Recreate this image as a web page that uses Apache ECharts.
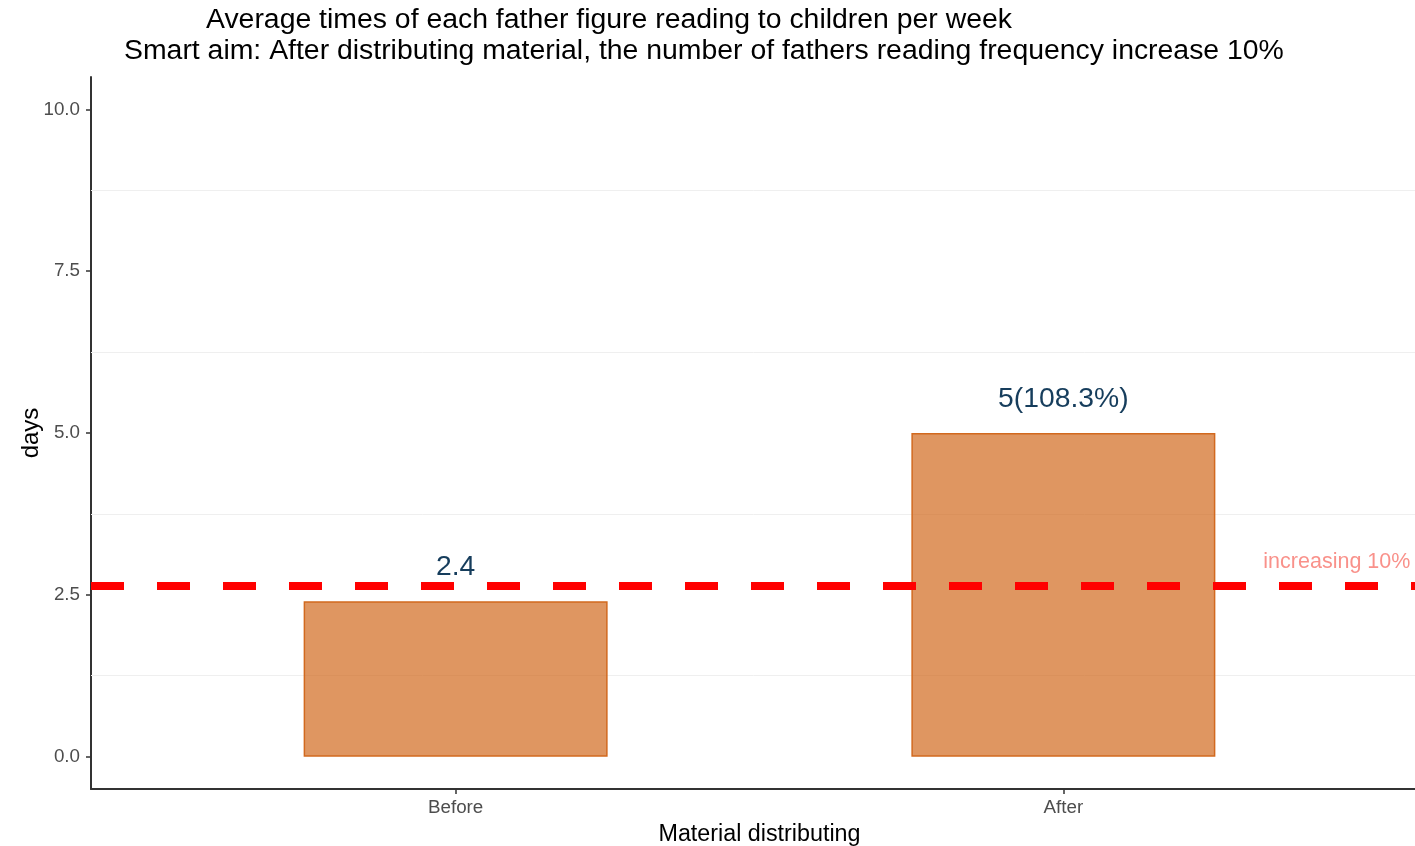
<!DOCTYPE html>
<html>
<head>
<meta charset="utf-8">
<script src="https://cdn.jsdelivr.net/npm/echarts@6/dist/echarts.min.js"></script>
<style>
  body { margin: 0; background: #fff; }
  #chart { width: 1415px; height: 846px; }
</style>
</head>
<body>
<div id="chart"></div>
<script>
  // data
  var categories = ['Before', 'After'];
  var daysValues = [2.4, 5];
  var barLabels = ['2.4', '5(108.3%)'];
  var yTicks = [0, 2.5, 5, 7.5, 10];
  var minorGrid = [1.25, 3.75, 6.25, 8.75];
  var targetLine = 2.64;           // 2.4 * 1.1
  var targetText = 'increasing 10%';
  var targetTextPos = [2.45, 3];

  var font = "'Liberation Sans', Arial, sans-serif";
  var chart = echarts.init(document.getElementById('chart'));

  var barData = daysValues.map(function (v, i) { return [i + 1, v]; });

  var option = {
    animation: false,
    title: [
      {
        text: 'Average times of each father figure reading to children per week',
        left: 206, top: 6, padding: 0,
        textStyle: { fontFamily: font, fontSize: 28.4, fontWeight: 'normal', color: '#000' }
      },
      {
        text: 'Smart aim: After distributing material, the number of fathers reading frequency increase 10%',
        left: 124, top: 37, padding: 0,
        textStyle: { fontFamily: font, fontSize: 28.4, fontWeight: 'normal', color: '#000' }
      }
    ],
    grid: { left: 91, top: 77, width: 1337, height: 712, outerBoundsMode: 'none' },
    xAxis: {
      type: 'value',
      min: 0.4,
      max: 2.6,
      name: 'Material distributing',
      nameLocation: 'middle',
      nameGap: 34,
      nameTextStyle: { fontFamily: font, fontSize: 23.3, color: '#000' },
      splitLine: { show: false },
      axisLine: { show: true, onZero: false, lineStyle: { color: '#333', width: 2 } },
      axisTick: { show: true, customValues: [1, 2], length: 5, lineStyle: { color: '#333', width: 1.5 } },
      axisLabel: {
        customValues: [1, 2],
        margin: 9,
        fontFamily: font, fontSize: 18.8, color: '#4d4d4d',
        formatter: function (v) { return categories[Math.round(v) - 1] || ''; }
      }
    },
    yAxis: {
      type: 'value',
      min: -0.5,
      max: 10.5,
      name: 'days',
      nameLocation: 'middle',
      nameGap: 48,
      nameMoveOverlap: false,
      nameTextStyle: { fontFamily: font, fontSize: 24, color: '#000' },
      splitLine: { show: false },
      axisLine: { show: true, onZero: false, lineStyle: { color: '#333', width: 2 } },
      axisTick: { show: true, customValues: yTicks, length: 5, lineStyle: { color: '#333', width: 1.5 } },
      axisLabel: {
        customValues: yTicks,
        margin: 11,
        fontFamily: font, fontSize: 18.8, color: '#4d4d4d',
        formatter: function (v) { return v.toFixed(1); }
      }
    },
    series: [
      {
        // faint minor gridlines, behind the bars
        type: 'line',
        data: [],
        silent: true,
        z: 1,
        markLine: {
          silent: true,
          z: 1,
          symbol: 'none',
          label: { show: false },
          lineStyle: { color: '#efefef', width: 1, type: 'solid' },
          data: minorGrid.map(function (v) { return { yAxis: v }; })
        }
      },
      {
        type: 'bar',
        data: barData,
        barWidth: 304,
        z: 2,
        itemStyle: {
          color: 'rgba(210,105,30,0.7)',
          borderColor: '#d2691e',
          borderWidth: 1.5
        },
        label: {
          show: true,
          position: 'top',
          distance: 20,
          fontFamily: font,
          fontSize: 28.3,
          color: '#163d5c',
          formatter: function (p) { return barLabels[p.dataIndex]; }
        }
      },
      {
        type: 'line',
        data: [],
        silent: true,
        z: 5,
        markLine: {
          silent: true,
          z: 5,
          symbol: 'none',
          label: { show: false },
          lineStyle: { color: '#ff0000', width: 8, type: [33, 33] },
          data: [{ yAxis: targetLine }]
        }
      },
      {
        type: 'scatter',
        data: [targetTextPos],
        symbolSize: 1,
        silent: true,
        z: 6,
        itemStyle: { color: 'rgba(0,0,0,0)' },
        label: {
          show: true,
          position: 'inside',
          fontFamily: font,
          fontSize: 21.5,
          color: '#f8766d',
          formatter: function () { return targetText; }
        }
      }
    ]
  };

  chart.setOption(option);
</script>
</body>
</html>
